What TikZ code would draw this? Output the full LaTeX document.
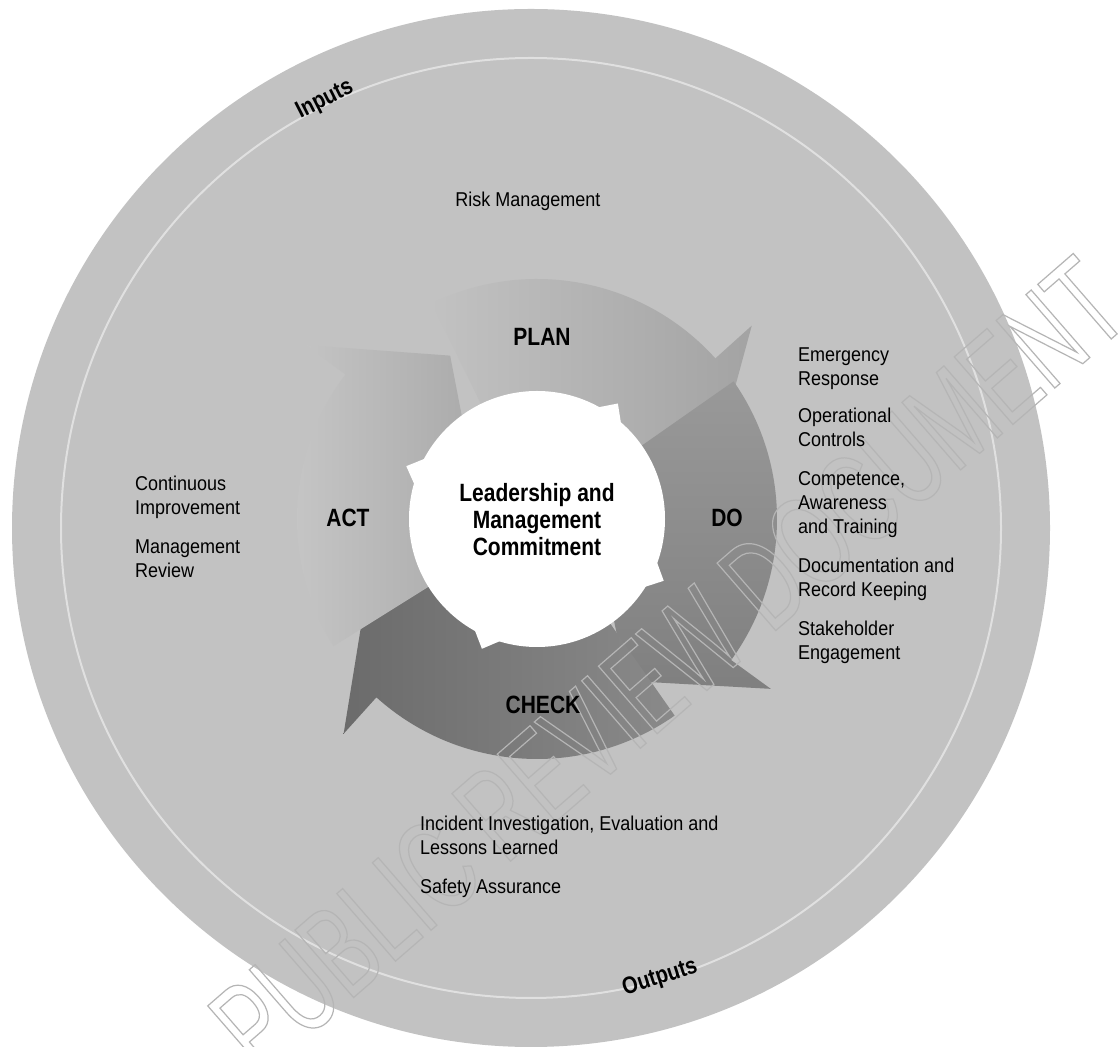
\documentclass[tikz,border=0pt]{standalone}
\usepackage{fontspec}
\setmainfont{Liberation Sans}
\newfontfamily\listfont[FakeStretch=0.9]{Liberation Sans}
\newfontfamily\phasefont[FakeStretch=0.84]{Liberation Sans}
\newfontfamily\stampfont[FakeStretch=0.64]{Liberation Sans}
\usetikzlibrary{calc}
\definecolor{disc}{gray}{0.76}
\definecolor{ringline}{gray}{0.88}
\definecolor{stampline}{gray}{0.71}
\newcommand{\cyclearrow}[3]{%
  \shade[#3] (#1:125) arc[start angle=#1, end angle=#2, radius=125] -- (#2:81) -- ({#2-25}:185) -- (#2:289) -- (#2:240) arc[start angle=#2, end angle=#1, radius=240] -- cycle;}

\begin{document}
\begin{tikzpicture}[x=1pt, y=1pt,
    listtext/.style={anchor=north west, inner sep=0pt, align=left, font=\listfont\fontsize{20}{24}\selectfont},
    phase/.style={inner sep=0pt, font=\phasefont\bfseries\fontsize{25}{27}\selectfont},
    flow/.style={inner sep=0pt, font=\phasefont\bfseries\fontsize{24}{26}\selectfont}]
    \fill[white] (0,0) rectangle (1120,1047);
    \useasboundingbox (0,0) rectangle (1120,1047);

    \coordinate (O) at (531,519);
    \coordinate (C) at (537,528);
    \fill[disc] (O) circle[radius=519];
    \draw[ringline, line width=2pt] (O) circle[radius=470];

    \begin{scope}[shift={(C)}]
        \cyclearrow{116}{42}{left color=black!24, right color=black!36}
        \cyclearrow{35}{-36}{top color=black!40, bottom color=black!50}
        \cyclearrow{-55}{-132}{left color=black!58, right color=black!46}
        \cyclearrow{212}{143}{left color=black!22, right color=black!33}
        \fill[white] (0,0) circle[radius=128];
        \foreach \s in {55,-26,-113,158}
            \fill[white] ({\s-7}:126) -- (\s:141) -- ({\s+7}:126) -- cycle;
    \end{scope}

    \node[rotate=41, text=stampline] (stamp) at (668,382) {\stampfont\fontsize{130}{130}\selectfont\special{pdf:literal direct 1 Tr 1.2 w}PUBLIC REVIEW DOCUMENT\special{pdf:literal direct 0 Tr}};

    \node[flow, rotate=27] (inputs) at (325,947) {Inputs};
    \node[flow, rotate=18] (outputs) at (660,69) {Outputs};

    \node[anchor=base, inner sep=0pt, font=\listfont\fontsize{20}{24}\selectfont] (risk) at (528,840) {Risk Management};

    \node[phase] (plan) at (542,710) {PLAN};
    \node[phase] (act) at (348,529) {ACT};
    \node[phase] (do) at (727,529) {DO};
    \node[phase] (check) at (543,342) {CHECK};
    \node[phase, align=center] (lead) at (537,527) {Leadership and\\Management\\Commitment};

    \node[listtext] (actlist) at (135,571.5) {Continuous\\Improvement\\[15pt]Management\\Review};
    \node[listtext] (dolist) at (798,699.5) {Emergency\\Response\\[13pt]Operational\\Controls\\[15pt]Competence,\\Awareness\\and Training\\[15pt]Documentation and\\Record Keeping\\[15pt]Stakeholder\\Engagement};
    \node[listtext] (checklist) at (420,231.5) {Incident Investigation, Evaluation and\\Lessons Learned\\[15pt]Safety Assurance};
\end{tikzpicture}
\end{document}
